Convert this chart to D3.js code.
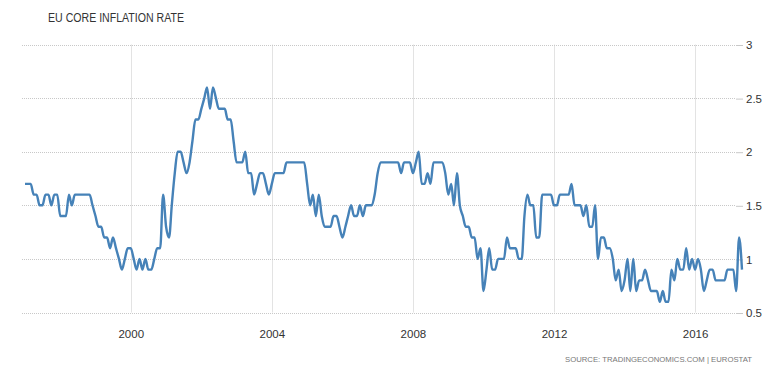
<!DOCTYPE html>
<html>
<head>
<meta charset="utf-8">
<script src="https://cdn.jsdelivr.net/npm/d3@7"></script>
<style>
  body { margin: 0; background: #fff; }
  text { font-family: "Liberation Sans", Arial, sans-serif; }
</style>
</head>
<body>
<div id="chart_svg"></div>
<script>

// monthly core inflation, Jan 1997 .. May 2017 (one row per year)
var startYear = 1997;
var coreRate = [
  1.7,1.7,1.7,1.6,1.6,1.5,1.5,1.6,1.6,1.5,1.6,1.6,
  1.4,1.4,1.4,1.6,1.5,1.6,1.6,1.6,1.6,1.6,1.6,1.5,
  1.4,1.3,1.3,1.2,1.2,1.1,1.2,1.1,1.0,0.9,1.0,1.1,
  1.1,1.0,0.9,1.0,0.9,1.0,0.9,0.9,1.0,1.1,1.1,1.6,
  1.3,1.2,1.5,1.8,2.0,2.0,1.9,1.8,1.9,2.1,2.3,2.3,
  2.4,2.5,2.6,2.4,2.6,2.5,2.4,2.4,2.4,2.3,2.3,2.1,
  1.9,1.9,1.9,2.0,1.8,1.8,1.6,1.7,1.8,1.8,1.7,1.6,
  1.7,1.8,1.8,1.8,1.8,1.9,1.9,1.9,1.9,1.9,1.9,1.9,
  1.7,1.5,1.6,1.4,1.6,1.4,1.3,1.3,1.3,1.4,1.4,1.3,
  1.2,1.3,1.4,1.5,1.4,1.4,1.5,1.4,1.5,1.5,1.5,1.6,
  1.8,1.9,1.9,1.9,1.9,1.9,1.9,1.9,1.8,1.9,1.9,1.9,
  1.8,1.9,2.0,1.7,1.7,1.8,1.7,1.9,1.9,1.9,1.9,1.8,
  1.6,1.7,1.5,1.8,1.5,1.4,1.3,1.3,1.2,1.2,1.0,1.1,
  0.7,0.9,1.1,0.9,0.9,1.0,1.0,1.0,1.2,1.1,1.1,1.1,
  1.0,1.0,1.4,1.6,1.5,1.5,1.2,1.2,1.6,1.6,1.6,1.6,
  1.5,1.5,1.6,1.6,1.6,1.6,1.7,1.5,1.5,1.5,1.4,1.5,
  1.3,1.3,1.5,1.0,1.2,1.2,1.1,1.1,1.0,0.8,0.9,0.7,
  0.8,1.0,0.7,1.0,0.7,0.8,0.8,0.9,0.8,0.7,0.7,0.7,
  0.6,0.7,0.6,0.6,0.9,0.8,1.0,0.9,0.9,1.1,0.9,1.0,
  0.9,1.0,0.9,0.7,0.8,0.9,0.9,0.8,0.8,0.8,0.8,0.9,
  0.9,0.9,0.7,1.2,0.9
];
var yearTicks = [2000, 2004, 2008, 2012, 2016];
var valueTicks = [0.5, 1, 1.5, 2, 2.5, 3];

var width = 782, height = 368;
var gridLeft = 22, plotLeft = 25, plotRight = 742, gridRight = 743,
    plotTop = 44.5, plotBottom = 312.5;

var data = coreRate.map(function(v, i) {
  return { date: new Date(startYear, i, 1), value: v };
});

var x = d3.scaleTime()
  .domain([new Date(startYear, 0, 1), data[data.length - 1].date])
  .range([plotLeft, plotRight]);
var y = d3.scaleLinear().domain([0.5, 3]).range([plotBottom, plotTop]);

var svg = d3.select("#chart_svg").append("svg")
  .attr("width", width)
  .attr("height", height);

// vertical year lines
svg.append("g")
  .selectAll("line")
  .data(yearTicks).enter()
  .append("line")
  .attr("x1", function(d) { return Math.round(x(new Date(d, 0, 1))) + 0.5; })
  .attr("x2", function(d) { return Math.round(x(new Date(d, 0, 1))) + 0.5; })
  .attr("y1", plotTop)
  .attr("y2", plotBottom)
  .style("stroke", "#e3e3e3")
  .style("stroke-width", 1);

// horizontal dotted grid
svg.append("g")
  .selectAll("line")
  .data(valueTicks).enter()
  .append("line")
  .attr("x1", gridLeft)
  .attr("x2", gridRight - 7)
  .attr("y1", function(d) { return Math.round(y(d)) + 0.5; })
  .attr("y2", function(d) { return Math.round(y(d)) + 0.5; })
  .style("stroke", "#c8c8c8")
  .style("stroke-width", 1)
  .style("stroke-dasharray", "1,1");

var yAxis = d3.axisRight(y)
  .tickValues(valueTicks)
  .tickSize(7)
  .tickPadding(3)
  .tickFormat(d3.format("~g"));

var gy = svg.append("g")
  .attr("class", "y axis")
  .attr("transform", "translate(" + (gridRight - 7) + ",0.5)")
  .call(yAxis);
gy.select(".domain").remove();
gy.selectAll("line").style("stroke", "#c8c8c8");
gy.selectAll("text")
  .style("font-size", "11.5px")
  .style("fill", "#333");

var xAxis = d3.axisBottom(x)
  .tickValues(yearTicks.map(function(d) { return new Date(d, 0, 1); }))
  .tickSize(0)
  .tickPadding(17)
  .tickFormat(d3.timeFormat("%Y"));

var gx = svg.append("g")
  .attr("class", "x axis")
  .attr("transform", "translate(0," + plotBottom + ")")
  .call(xAxis);
gx.select(".domain").remove();
gx.selectAll("text")
  .style("font-size", "11.5px")
  .style("fill", "#333");

var line = d3.line()
  .curve(d3.curveMonotoneX)
  .x(function(d) { return x(d.date); })
  .y(function(d) { return y(d.value); });

svg.append("path")
  .datum(data)
  .attr("d", line)
  .style("fill", "none")
  .style("stroke", "#4682b8")
  .style("stroke-width", 2.4)
  .style("stroke-linejoin", "round");

svg.append("text")
  .attr("x", 48)
  .attr("y", 22)
  .attr("textLength", 136)
  .attr("lengthAdjust", "spacingAndGlyphs")
  .style("font-size", "12px")
  .style("fill", "#333")
  .text("EU CORE INFLATION RATE");

svg.append("text")
  .attr("x", 752)
  .attr("y", 362)
  .attr("text-anchor", "end")
  .attr("textLength", 187)
  .attr("lengthAdjust", "spacingAndGlyphs")
  .style("font-size", "8px")
  .style("fill", "#777")
  .text("SOURCE: TRADINGECONOMICS.COM | EUROSTAT");

</script>
</body>
</html>
